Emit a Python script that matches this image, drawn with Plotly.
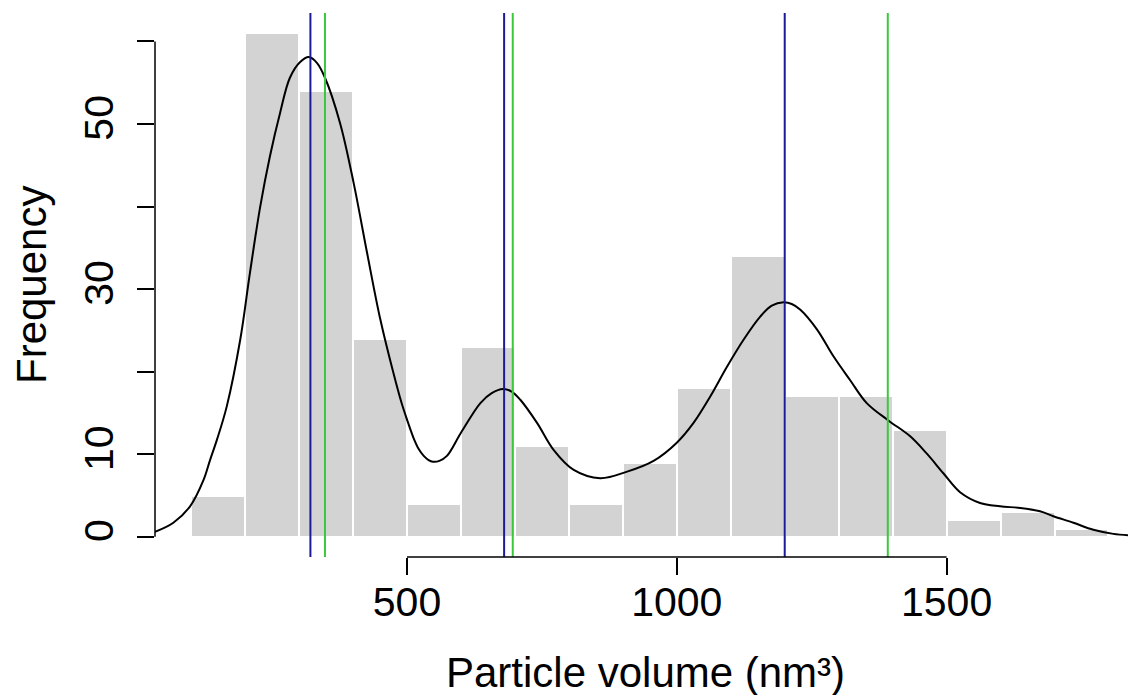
import plotly.graph_objects as go

# ---- data ----
bin_left = [100, 200, 300, 400, 500, 600, 700, 800, 900, 1000,
            1100, 1200, 1300, 1400, 1500, 1600, 1700]
counts = [5, 61, 54, 24, 4, 23, 11, 4, 9, 18, 34, 17, 17, 13, 2, 3, 1]
bin_width = 100

dens_x = [33, 67, 98, 123, 135, 148, 166, 191, 209, 228, 246, 265, 283, 302, 318, 333,
          348, 376, 401, 426, 450, 475, 490, 500, 512, 522, 531, 540, 548, 560, 574, 600,
          636, 657, 678, 694, 710, 741, 772, 809, 858, 908, 957, 1000, 1031, 1062, 1093,
          1124, 1155, 1176, 1198, 1213, 1229, 1260, 1290, 1321, 1352, 1392, 1432, 1463,
          1494, 1525, 1562, 1599, 1636, 1673, 1698, 1735, 1772, 1809, 1851]
dens_y = [0.6, 1.7, 3.7, 6.9, 9.3, 11.8, 15.8, 23.9, 32.0, 40.0, 46.1, 51.4, 55.6, 57.5, 58.1, 57.4,
          55.6, 50.1, 42.9, 34.4, 26.5, 19.8, 16.2, 14.2, 12.0, 10.6, 9.8, 9.3, 9.1, 9.2, 9.8, 12.6,
          16.2, 17.4, 17.9, 17.6, 16.6, 13.8, 10.5, 8.1, 7.1, 7.9, 9.2, 11.4, 13.8, 17.0, 20.6,
          23.9, 26.7, 28.0, 28.4, 28.2, 27.5, 25.1, 21.9, 19.0, 16.2, 14.1, 12.2, 10.1,
          7.7, 5.4, 4.1, 3.7, 3.5, 3.1, 2.5, 1.7, 0.85, 0.36, 0.12]

blue_lines = [321, 680, 1200]
green_lines = [348, 696, 1391]

x_ticks = [500, 1000, 1500]
y_ticks = [0, 10, 20, 30, 40, 50, 60]
y_ticklabels = ["0", "10", "", "30", "", "50", ""]

x_title = "Particle volume (nm³)"
y_title = "Frequency"

FONT = "Liberation Sans, Arial, Helvetica, sans-serif"
FS_TICK = 41
FS_TITLE = 42

fig = go.Figure()

fig.add_trace(go.Bar(
    x=[b + bin_width / 2 for b in bin_left],
    y=counts,
    width=bin_width,
    marker=dict(color="#D3D3D3", line=dict(color="white", width=2)),
    hoverinfo="x+y",
    showlegend=False,
))

fig.add_trace(go.Scatter(
    x=dens_x, y=dens_y, mode="lines",
    line=dict(color="black", width=2, shape="spline", smoothing=1.0),
    showlegend=False,
))

for v in blue_lines:
    fig.add_vline(x=v, line=dict(color="#1A1A9A", width=2))
for v in green_lines:
    fig.add_vline(x=v, line=dict(color="#3CC83C", width=2))

# R-style detached axis lines
fig.add_shape(type="line", xref="x", yref="paper",
              x0=x_ticks[0], x1=x_ticks[-1], y0=0, y1=0,
              line=dict(color="black", width=1.5))
fig.add_shape(type="line", xref="paper", yref="y",
              x0=0, x1=0, y0=y_ticks[0], y1=y_ticks[-1],
              line=dict(color="black", width=1.5))

# axis titles
fig.add_annotation(text=x_title, xref="paper", yref="paper", x=0.5, y=0,
                   showarrow=False, font=dict(size=FS_TITLE),
                   xanchor="center", yanchor="middle", yshift=-115)
fig.add_annotation(text=y_title, xref="paper", yref="paper", x=0, y=0.5,
                   showarrow=False, font=dict(size=FS_TITLE), textangle=-90,
                   xanchor="center", yanchor="middle", xshift=-124)

fig.update_layout(
    width=1128, height=687,
    margin=dict(l=147, r=0, t=5, b=138),
    plot_bgcolor="white", paper_bgcolor="white",
    font=dict(family=FONT, size=FS_TICK, color="black"),
    bargap=0,
    xaxis=dict(
        range=[33, 1851], tickvals=x_ticks, ticktext=[str(t) for t in x_ticks],
        ticks="outside", ticklen=17, tickwidth=1.5, tickcolor="black",
        showline=False, showgrid=False, zeroline=False,
        tickfont=dict(size=FS_TICK), ticklabelstandoff=-8,
        automargin=False,
    ),
    yaxis=dict(
        range=[-2.44, 63.44], tickvals=y_ticks, ticktext=y_ticklabels,
        tickangle=-90,
        ticks="outside", ticklen=17, tickwidth=1.5, tickcolor="black",
        showline=False, showgrid=False, zeroline=False,
        tickfont=dict(size=FS_TICK), ticklabelstandoff=8,
        automargin=False,
    ),
)

fig.write_html("out.html")
